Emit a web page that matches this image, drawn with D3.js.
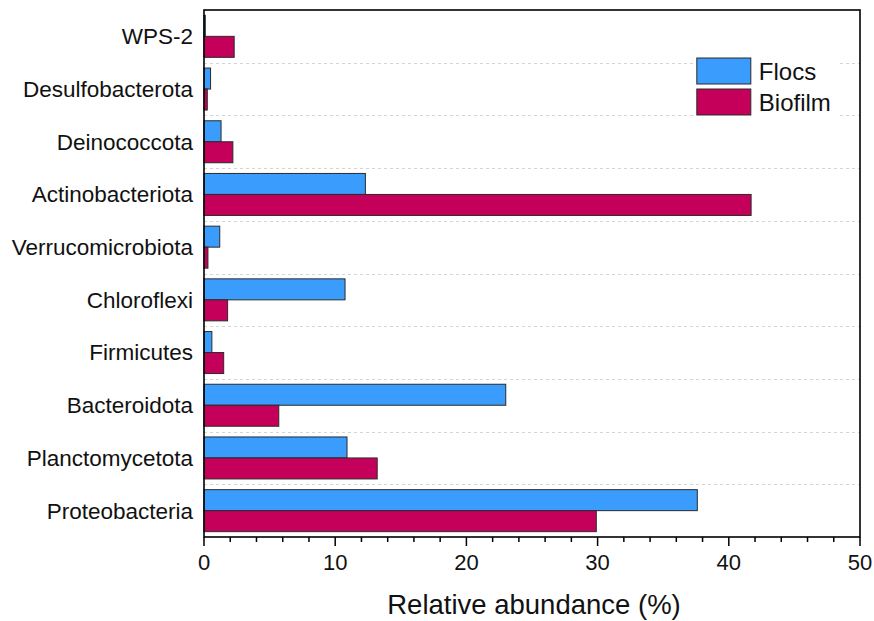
<!DOCTYPE html>
<html>
<head>
<meta charset="utf-8">
<script src="https://cdn.jsdelivr.net/npm/d3@7"></script>
<style>
  html, body { margin: 0; padding: 0; background: #fff; }
  svg text { font-family: 'Liberation Sans', Arial, sans-serif; fill: #111; }
</style>
</head>
<body>
<div id="chart"></div>
<script>
// categories top → bottom
const categories = ['WPS-2', 'Desulfobacterota', 'Deinococcota', 'Actinobacteriota', 'Verrucomicrobiota',
     'Chloroflexi', 'Firmicutes', 'Bacteroidota', 'Planctomycetota', 'Proteobacteria'];
const seriesNames = ['Flocs', 'Biofilm'];
const flocs   = [0.1, 0.5, 1.3, 12.3, 1.2, 10.75, 0.6, 23.0, 10.9, 37.6];
const biofilm = [2.3, 0.25, 2.2, 41.7, 0.3, 1.8, 1.5, 5.7, 13.2, 29.9];
const seriesColors = ['#3a9cfd', '#c4005a'];
const xTicks = [0, 10, 20, 30, 40, 50];
const minorTicks = d3.range(0, 50.01, 2);

const W = 874, H = 621;
const M = { top: 10, right: 14, bottom: 84, left: 204 };
const iW = W - M.left - M.right, iH = H - M.top - M.bottom;

const rows = categories.map((c, i) => ({ cat: c, vals: [flocs[i], biofilm[i]] }));

const svg = d3.select('#chart').append('svg').attr('width', W).attr('height', H);
const g = svg.append('g').attr('transform', `translate(${M.left},${M.top})`);

const x = d3.scaleLinear().domain([0, 50]).range([0, iW]);
const y = d3.scaleBand().domain(categories).range([0, iH]).padding(0);
const ySub = d3.scaleBand().domain(seriesNames).range([0, y.bandwidth()]).paddingInner(0).paddingOuter(0.255);

// dashed gridlines at band boundaries
g.selectAll('.grid')
     .data(categories.slice(1))
     .join('line')
     .attr('x1', 0).attr('x2', iW)
     .attr('y1', d => Math.round(y(d)) + 0.5).attr('y2', d => Math.round(y(d)) + 0.5)
     .attr('stroke', '#d4d4d4').attr('stroke-width', 1).attr('stroke-dasharray', '3,3');

// bars
const grp = g.selectAll('.cat').data(rows).join('g')
     .attr('transform', d => `translate(0,${y(d.cat)})`);
grp.selectAll('rect')
     .data(d => d.vals.map((v, j) => ({ s: seriesNames[j], v, j })))
     .join('rect')
     .attr('x', 0)
     .attr('y', d => ySub(d.s))
     .attr('width', d => x(d.v))
     .attr('height', ySub.bandwidth())
     .attr('fill', d => seriesColors[d.j])
     .attr('stroke', '#2b2b2b').attr('stroke-width', 1);

// category labels
g.selectAll('.catlbl').data(categories).join('text')
     .attr('x', -11).attr('y', d => y(d) + y.bandwidth() / 2)
     .attr('dy', '0.35em').attr('text-anchor', 'end')
     .attr('font-size', '22.5px')
     .text(d => d);

// x axis
const xAxis = g.append('g').attr('transform', `translate(0,${iH})`);
xAxis.selectAll('.minor').data(minorTicks.filter(t => t % 10 !== 0)).join('line')
     .attr('x1', d => x(d)).attr('x2', d => x(d)).attr('y1', 0).attr('y2', 5)
     .attr('stroke', '#000').attr('stroke-width', 1.5);
xAxis.selectAll('.major').data(xTicks).join('line')
     .attr('x1', d => x(d)).attr('x2', d => x(d)).attr('y1', 0).attr('y2', 9)
     .attr('stroke', '#000').attr('stroke-width', 1.5);
xAxis.selectAll('.tl').data(xTicks).join('text')
     .attr('x', d => x(d)).attr('y', 33)
     .attr('text-anchor', 'middle').attr('font-size', '22px')
     .text(d => d);

// frame
g.append('rect').attr('x', 0).attr('y', 0).attr('width', iW).attr('height', iH)
     .attr('fill', 'none').attr('stroke', '#000').attr('stroke-width', 1.6);

// axis title
svg.append('text')
     .attr('x', M.left + iW / 2 + 2).attr('y', 614)
     .attr('text-anchor', 'middle').attr('font-size', '27.5px')
     .text('Relative abundance (%)');

// legend
const lg = g.append('g').attr('transform', `translate(${x(37.6) - 0.5},${48})`);
lg.append('rect').attr('x', -2).attr('y', -3).attr('width', 142).attr('height', 64).attr('fill', '#fff');
seriesNames.forEach((s, i) => {
     lg.append('rect').attr('x', 0).attr('y', i * 31).attr('width', 54).attr('height', 26)
          .attr('fill', seriesColors[i]).attr('stroke', '#2b2b2b').attr('stroke-width', 1);
     lg.append('text').attr('x', 62).attr('y', i * 31 + 13).attr('dy', '0.36em')
          .attr('font-size', '24px').text(s);
});
</script>
</body>
</html>
